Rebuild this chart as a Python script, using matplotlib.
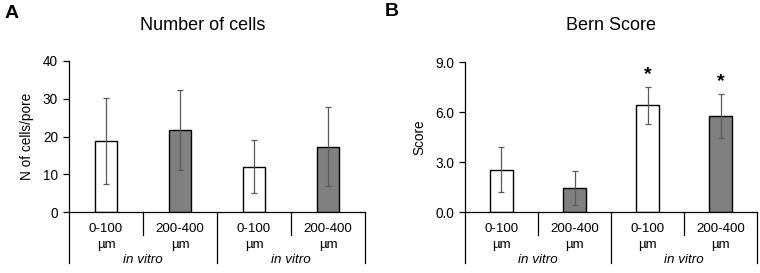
import matplotlib.pyplot as plt
import matplotlib.transforms as mtransforms
from matplotlib.ticker import FormatStrFormatter

plt.rcParams['font.family'] = ['Liberation Sans', 'DejaVu Sans']

# data
sizes = ["0-100\nµm", "200-400\nµm", "0-100\nµm", "200-400\nµm"]
groups = ["in vitro", "in vitro"]
fills = ["white", "#808080", "white", "#808080"]

cells_mean = [18.8, 21.7, 12.0, 17.3]
cells_sd = [11.4, 10.6, 7.0, 10.4]

bern_mean = [2.55, 1.45, 6.4, 5.75]
bern_sd = [1.33, 1.04, 1.1, 1.33]
bern_star = [False, False, True, True]


def draw_panel(ax, means, sds, ymax, yticks, ylabel, stars=None, fmt=None):
    x = list(range(len(means)))
    ax.bar(x, means, width=0.31, color=fills, edgecolor='black', linewidth=1.0, zorder=2)
    ax.errorbar(x, means, yerr=sds, fmt='none', ecolor='#5a5a5a', elinewidth=0.9,
                capsize=2.2, capthick=0.9, zorder=3)
    ax.set_xlim(-0.5, len(means) - 0.5)
    ax.set_ylim(0, ymax)
    ax.set_yticks(yticks)
    if fmt:
        ax.yaxis.set_major_formatter(FormatStrFormatter(fmt))
    ax.set_xticks([])
    ax.spines['top'].set_visible(False)
    ax.spines['right'].set_visible(False)
    ax.tick_params(axis='y', length=4, width=0.9, labelsize=9.8, pad=4)
    ax.spines['left'].set_linewidth(0.9)
    ax.spines['bottom'].set_linewidth(0.9)
    ax.set_ylabel(ylabel, fontsize=9.8, labelpad=6)

    trans = mtransforms.blended_transform_factory(ax.transData, ax.transAxes)
    h = ax.get_position().height * 273
    # multi-level category axis separators
    for xs in [0.5, 2.5]:
        ax.plot([xs, xs], [0, -23 / h], color='black', lw=0.9, transform=trans, clip_on=False)
    for xs in [-0.5, 1.5, 3.5]:
        ax.plot([xs, xs], [0, -51 / h], color='black', lw=0.9, transform=trans, clip_on=False)
    for i, lab in enumerate(sizes):
        ax.text(i, -25 / h, lab, transform=trans, ha='center', va='center',
                fontsize=9.6, linespacing=1.45)
    for j, g in enumerate(groups):
        ax.text(2 * j + 0.5, -48 / h, g, transform=trans, ha='center', va='center',
                fontsize=9.6, style='italic')

    if stars:
        for i, s in enumerate(stars):
            if s:
                ax.annotate('*', (i, means[i] + sds[i]), xytext=(0, 3), textcoords='offset points',
                            ha='center', va='bottom', fontsize=14, fontweight='bold')


fig = plt.figure(figsize=(7.6, 2.73), dpi=100)
ax1 = fig.add_axes([69 / 760, 61 / 273, 296 / 760, 151 / 273])
ax2 = fig.add_axes([465 / 760, 61 / 273, 292 / 760, 150 / 273])

draw_panel(ax1, cells_mean, cells_sd, 40, [0, 10, 20, 30, 40], "N of cells/pore")
draw_panel(ax2, bern_mean, bern_sd, 9, [0, 3, 6, 9], "Score", stars=bern_star, fmt='%.1f')

fig.text(203 / 760, 1 - 25 / 273, "Number of cells", ha='center', va='center', fontsize=13)
fig.text(611 / 760, 1 - 25 / 273, "Bern Score", ha='center', va='center', fontsize=13)
fig.text(5 / 760, 1 - 13 / 273, "A", ha='left', va='center', fontsize=14, fontweight='bold')
fig.text(385 / 760, 1 - 12 / 273, "B", ha='left', va='center', fontsize=14, fontweight='bold')

fig.savefig('out.png', dpi=100)
